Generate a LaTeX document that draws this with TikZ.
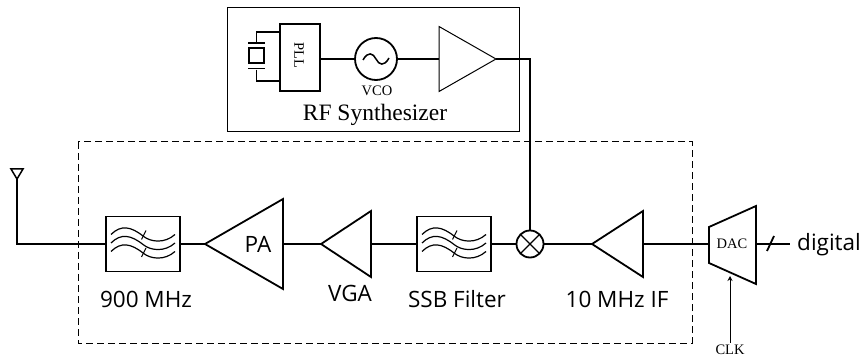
\documentclass[tikz,border=0pt]{standalone}
\usepackage{fontspec}
\setmainfont{Liberation Serif}
\setsansfont{Open Sans}
\usetikzlibrary{shapes.geometric,arrows.meta}

\tikzset{
  wire/.style={line width=1.8pt},
  thinbox/.style={draw,line width=1pt,inner sep=0,outer sep=0},
  block/.style={draw,line width=1.8pt,inner sep=0,outer sep=0},
  filt/.style={block,minimum width=74,minimum height=55},
  tri/.style={isosceles triangle,isosceles triangle stretches,draw,inner sep=0,outer sep=0,anchor=apex},
  amp/.style={tri,line width=1.8pt,rotate=180},
  lbl/.style={font=\sffamily\fontsize{22.5}{22.5}\selectfont,inner sep=0},
  small/.style={font=\fontsize{14.5}{14.5}\selectfont,inner sep=0},
}

\begin{document}
\begin{tikzpicture}[x=1pt,y=-1pt]
    \useasboundingbox (0,0) rectangle (865,358);

    % synthesizer
    \node[thinbox,minimum width=292,minimum height=124] (rfbox) at (373,69.5) {};
    \node[block,minimum width=40,minimum height=67] (pll) at (300,57.5) {};
    \node[small,rotate=-90] (plltext) at (299,55) {PLL};
    \node[block,minimum width=15,minimum height=15] (xtal) at (256.5,55.5) {};
    \node[fill,inner sep=0,minimum width=17,minimum height=1.8] (xtop) at (256.5,43) {};
    \node[fill,inner sep=0,minimum width=17,minimum height=1.8] (xbot) at (256.5,68.5) {};
    \node[block,circle,minimum size=42] (vco) at (376,59) {};
    \node[small] (vcotext) at (377,91) {VCO};
    \node[tri,line width=1pt,minimum width=65,minimum height=57] (buf) at (496,59) {};
    \node[font=\fontsize{23.5}{23.5}\selectfont,inner sep=0] (rftext) at (375,115) {RF Synthesizer};
    \draw[wire] (xtop.north) |- (pll.west |- 0,32);
    \draw[wire] (xbot.south) |- (pll.west |- 0,81);
    \draw[wire] (pll.east |- vco.west) -- (vco.west);
    \begin{scope}[shift={(vco.center)}]
      \draw[line width=1.5pt] (-13,1) .. controls (-8,-8) and (-3,-6) .. (0,0)
        .. controls (3,6) and (8,8) .. (13,-1);
    \end{scope}

    % transmit path
    \draw[line width=1pt,dash pattern=on 7pt off 4pt] (78,142) rectangle (692,343);
    \node[tri,line width=1.5pt,rotate=-90,minimum width=12,minimum height=10] (ant) at (17,179) {};
    \node[filt] (filta) at (143,244) {};
    \node[amp,minimum width=90,minimum height=78] (pa) at (205,244) {};
    \node[amp,minimum width=66,minimum height=50] (vga) at (321,244) {};
    \node[filt] (filtb) at (454,244) {};
    \node[block,circle,minimum size=27] (mix) at (530,244) {};
    \node[amp,minimum width=66,minimum height=51] (ifamp) at (592,244) {};
    \coordinate (dacin) at (709,244);
    \coordinate (dacout) at (756,244);
    \draw[wire,line join=miter] (709,227) -- (756,206) -- (756,284) -- (709,263) -- cycle;

    \foreach \f in {filta,filtb} {
      \begin{scope}[shift={(\f.center)}]
        \foreach \dy in {-9.5,-1,7.5}
          \draw[line width=1.2pt] (-32,\dy) .. controls (-22,\dy-10) and (-12,\dy-8) .. (0,\dy+1.5)
            .. controls (8,\dy+8) and (22,\dy+9) .. (32,\dy);
        \draw[line width=1pt] (-1.5,-4.5) -- (3,-13.5);
        \draw[line width=1pt] (-1.5,13) -- (3,4);
      \end{scope}
    }
    \draw[line width=1.2pt] (mix.45) -- (mix.225) (mix.135) -- (mix.-45);

    \coordinate (dout) at (790,244);
    \coordinate (slasha) at (767,251);
    \coordinate (slashb) at (774,236);
    \coordinate (clkin) at (730,276);

    \draw[wire] (ant.apex) |- (filta.west);
    \draw[wire] (filta.east) -- (pa.apex);
    \draw[wire] (pa.lower side) -- (vga.apex);
    \draw[wire] (vga.lower side) -- (filtb.west);
    \draw[wire] (filtb.east) -- (mix.west);
    \draw[wire] (mix.east) -- (ifamp.apex);
    \draw[wire] (ifamp.lower side) -- (dacin);
    \draw[wire] (dacout) -- (dout);
    \draw[wire] (slasha) -- (slashb);
    \draw[wire] (vco.east) -- (buf.lower side);
    \draw[wire] (buf.apex) -| (mix.north);

    \node[lbl] (filtatext) at (146,299) {900 MHz};
    \node[lbl] (patext) at (258,244) {PA};
    \node[lbl] (vgatext) at (350,293) {VGA};
    \node[lbl] (filtbtext) at (457,299) {SSB Filter};
    \node[lbl] (iftext) at (617,299) {10 MHz IF};
    \node[small] (dactext) at (732,244) {DAC};
    \node[lbl,anchor=west] (digtext) at (797,244.5) {digital};
    \node[small,inner sep=2pt] (clk) at (730,350) {CLK};
    \draw[line width=1pt,-{Stealth[length=5pt,width=5pt]}] (clk.north) -- (clkin);
\end{tikzpicture}
\end{document}
